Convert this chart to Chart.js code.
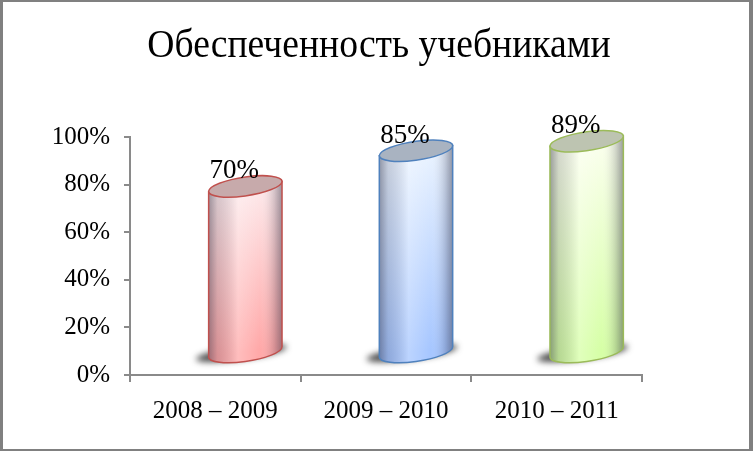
<!DOCTYPE html>
<html>
<head>
<meta charset="utf-8">
<script src="https://cdn.jsdelivr.net/npm/chart.js@4/dist/chart.umd.min.js"></script>
<style>
    html, body { margin: 0; padding: 0; background: #fff; }
    #frame {
        width: 753px; height: 451px; box-sizing: border-box;
        border-style: solid; border-color: #808080;
        border-width: 2px 4px 2px 3px;
        background: #fff;
    }
    canvas { display: block; }
</style>
</head>
<body>
<div id="frame"><canvas id="chart" width="746" height="447"></canvas></div>
<script>
// --- Data ---
const titleText = 'Обеспеченность учебниками';
const years = ['2008 – 2009', '2009 – 2010', '2010 – 2011'];
const supplied = [70, 85, 89];
const yTicks = [0, 20, 40, 60, 80, 100];

// colours per cylinder: edge line, top of body, bottom of body, lid
const palette = [
    { line: '#c0504d', top: '#fdeaec', bottom: '#ffa8a8', lid: '#c7aaab' },
    { line: '#4f81bd', top: '#eaf3ff', bottom: '#a6c6ff', lid: '#a9b3c1' },
    { line: '#9bbb59', top: '#fbffee', bottom: '#d6ffa6', lid: '#bdc4b1' }
];

const serif = "'Liberation Serif', 'Times New Roman', serif";
const DX = 30, DY = -22, SKEW = -0.137, RY = 9.5;

// title is a bit narrower than Liberation Serif, so squeeze it slightly
const titlePlugin = {
    id: 'narrowTitle',
    afterDraw(chart) {
        const ctx = chart.ctx;
        ctx.save();
        ctx.font = '40px ' + serif;
        ctx.fillStyle = '#000';
        ctx.textAlign = 'center';
        ctx.textBaseline = 'alphabetic';
        ctx.translate(chart.width / 2 + 3, 55);
        ctx.scale(0.94, 1);
        ctx.fillText(titleText, 0, 0);
        ctx.restore();
    }
};

// --- Cylinder plugin (3D look like the office chart) ---
const cylinders = {
    id: 'cylinders',
    afterDatasetsDraw(chart) {
        const ctx = chart.ctx;
        const meta = chart.getDatasetMeta(0);
        meta.data.forEach((bar, i) => {
            const c = palette[i];
            const cx = bar.x + DX;
            const rx = bar.width / 2;
            const yT = bar.y + DY;
            const yB = bar.base + DY;

            // floor shadow
            ctx.save();
            ctx.filter = 'blur(3px)';
            ctx.fillStyle = 'rgba(30,30,30,0.8)';
            ctx.beginPath();
            ctx.ellipse(cx - 4, yB + 1, rx + 9, RY - 3, SKEW, 0, Math.PI * 2);
            ctx.fill();
            ctx.restore();

            ctx.save();
            ctx.translate(cx, 0);
            ctx.transform(1, SKEW, 0, 1, 0, 0);

            // body
            ctx.beginPath();
            ctx.moveTo(-rx, yT);
            ctx.lineTo(-rx, yB);
            ctx.ellipse(0, yB, rx, RY, 0, Math.PI, 0, true);
            ctx.lineTo(rx, yT);
            ctx.closePath();
            const vg = ctx.createLinearGradient(0, yT, 0, yB);
            vg.addColorStop(0, c.top);
            vg.addColorStop(1, c.bottom);
            ctx.fillStyle = vg;
            ctx.fill();
            const hg = ctx.createLinearGradient(-rx, 0, rx, 0);
            hg.addColorStop(0, 'rgba(40,40,60,0.45)');
            hg.addColorStop(0.12, 'rgba(40,40,60,0.18)');
            hg.addColorStop(0.4, 'rgba(255,255,255,0.25)');
            hg.addColorStop(0.7, 'rgba(255,255,255,0)');
            hg.addColorStop(0.9, 'rgba(40,40,60,0.2)');
            hg.addColorStop(1, 'rgba(40,40,60,0.45)');
            ctx.fillStyle = hg;
            ctx.fill();
            ctx.strokeStyle = c.line;
            ctx.lineWidth = 1.5;
            ctx.stroke();

            // lid
            ctx.beginPath();
            ctx.ellipse(0, yT, rx, RY, 0, 0, Math.PI * 2);
            ctx.fillStyle = c.lid;
            ctx.fill();
            ctx.stroke();
            ctx.restore();

            // value label
            ctx.save();
            ctx.font = '27px ' + serif;
            ctx.fillStyle = '#000';
            ctx.textAlign = 'center';
            ctx.textBaseline = 'alphabetic';
            ctx.fillText(supplied[i] + '%', cx - 11, yT - 8);
            ctx.restore();
        });
    }
};

new Chart(document.getElementById('chart'), {
    type: 'bar',
    data: {
        labels: years,
        datasets: [{
            data: supplied,
            backgroundColor: 'rgba(0,0,0,0)',
            borderWidth: 0,
            categoryPercentage: 1,
            barPercentage: 0.43
        }]
    },
    options: {
        responsive: false,
        animation: false,
        devicePixelRatio: 1,
        layout: { padding: { left: 0, right: 107, top: 135, bottom: 0 } },
        plugins: {
            legend: { display: false },
            tooltip: { enabled: false },
            title: { display: false }
        },
        scales: {
            y: {
                min: 0,
                max: 100,
                afterFit: (s) => { s.width = 127; },
                afterBuildTicks: (s) => { s.ticks = yTicks.map(v => ({ value: v })); },
                border: { display: true, color: '#8a8a8a', width: 2 },
                grid: { drawOnChartArea: false, drawTicks: true, tickLength: 6, color: '#8a8a8a', lineWidth: 2 },
                ticks: {
                    color: '#000',
                    padding: 14,
                    font: { family: serif, size: 25 },
                    callback: (v) => v + '%'
                }
            },
            x: {
                afterFit: (s) => { s.height = 74; },
                border: { display: true, color: '#8a8a8a', width: 2 },
                grid: { drawOnChartArea: false, drawTicks: true, tickLength: 7, color: '#8a8a8a', lineWidth: 2, offset: true },
                ticks: {
                    color: '#000',
                    padding: 14,
                    font: { family: serif, size: 25 }
                }
            }
        }
    },
    plugins: [cylinders, titlePlugin]
});
</script>
</body>
</html>
